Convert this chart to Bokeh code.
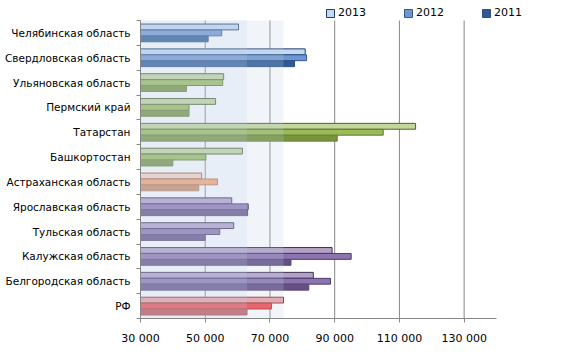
from bokeh.plotting import figure
from bokeh.models import ColumnDataSource, FixedTicker, Legend, LegendItem, Range1d
from bokeh.embed import file_html
from bokeh.resources import INLINE

categories = ["Челябинская область", "Свердловская область", "Ульяновская область",
              "Пермский край", "Татарстан", "Башкортостан", "Астраханская область",
              "Ярославская область", "Тульская область", "Калужская область",
              "Белгородская область", "РФ"]
v2013 = [60300, 80900, 55700, 53200, 115000, 61500, 48900, 58200, 58800, 89200, 83400, 74200]
v2012 = [55100, 81300, 55400, 45000, 105000, 50200, 53800, 63300, 54500, 95100, 88700, 70500]
v2011 = [50900, 77600, 44200, 45000, 90800, 40000, 48000, 63100, 50000, 76500, 82000, 62900]
groups = ["blue", "blue", "green", "green", "green", "green", "orange",
          "purple", "purple", "purple", "purple", "red"]
years = ["2013", "2012", "2011"]
x_ticks = [30000, 50000, 70000, 90000, 110000, 130000]
x_tick_labels = ["30 000", "50 000", "70 000", "90 000", "110 000", "130 000"]
base = 30000
x_max = 140000

fills = {
    "blue":   ["#c6d9f1", "#6f96cf", "#2f5a94"],
    "green":  ["#c4d79b", "#9bbb59", "#77933c"],
    "orange": ["#fad9c8", "#f7a56f", "#cf8a60"],
    "purple": ["#b3a2c7", "#8c74b0", "#655084"],
    "red":    ["#ee9fa2", "#f2474b", "#c0504d"],
}
lines = {
    "blue":   ["#1f3d6a", "#2f5a94", "#2a4f82"],
    "green":  ["#4f6228", "#5f7a30", "#6b8436"],
    "orange": ["#a0623c", "#c0703e", "#b57a55"],
    "purple": ["#403152", "#4e3d6a", "#5a4878"],
    "red":    ["#8b2f2f", "#b03030", "#a84442"],
}

n = len(categories)
centers = [n - i - 0.5 for i in range(n)]
offsets = [0.24, 0.0, -0.24]
series = [v2013, v2012, v2011]

FONT = "DejaVu Sans"
# plotting area (axes region) plus an extra strip on top / right that holds the legend
AX_W, AX_H = 356, 298
FW, FH = 396, 316
x_end = base + (x_max - base) * FW / AX_W
y_end = n * FH / AX_H

p = figure(frame_width=FW, frame_height=FH, output_backend="svg", toolbar_location=None,
           x_range=Range1d(base, x_end), y_range=Range1d(0, y_end),
           min_border_left=140, min_border_right=10, min_border_top=2, min_border_bottom=27)
p.outline_line_color = None
p.background_fill_color = "white"
p.border_fill_color = "white"
p.xgrid.visible = False
p.ygrid.visible = False

# vertical grid lines, limited to the category area
grid_x = x_ticks[1:]
grid_src = ColumnDataSource(dict(x=grid_x, y0=[0] * len(grid_x), y1=[n] * len(grid_x)))
p.segment(x0="x", x1="x", y0="y0", y1="y1", source=grid_src,
          line_color="#868686", line_width=1)

# bars
bar_renderers = []
for k, vals in enumerate(series):
    src = ColumnDataSource(dict(
        y=[c + offsets[k] for c in centers],
        right=vals,
        left=[base] * n,
        fill=[fills[g][k] for g in groups],
        line=[lines[g][k] for g in groups],
    ))
    r = p.hbar(y="y", left="left", right="right", height=0.235, source=src,
               fill_color="fill", line_color="line", line_width=1)
    bar_renderers.append(r)

# translucent bands (up to РФ 2013 and up to РФ 2011)
p.quad(left=[base], right=[v2013[-1]], bottom=[0], top=[n],
       fill_color="#bfd0ea", fill_alpha=0.22, line_color=None)
p.quad(left=[base], right=[v2011[-1]], bottom=[0], top=[n],
       fill_color="#bfd0ea", fill_alpha=0.19, line_color=None)

legend_items = [LegendItem(label=yr, renderers=[bar_renderers[k]], index=0)
                for k, yr in enumerate(years)]

legend = Legend(items=legend_items, orientation="horizontal",
                location=(185, FH - 17), glyph_width=10, glyph_height=10,
                label_height=12, label_width=65, label_standoff=3, spacing=0,
                padding=0, margin=0, border_line_color=None, background_fill_alpha=0,
                label_text_font_size="11px", label_text_font=FONT,
                label_text_color="#000000")
p.add_layout(legend)

# x axis
xa = p.xaxis[0]
xa.bounds = (base, x_max)
xa.ticker = FixedTicker(ticks=x_ticks, minor_ticks=[])
xa.major_label_overrides = {t: lab for t, lab in zip(x_ticks, x_tick_labels)}
xa.axis_line_color = "#868686"
xa.major_tick_line_color = "#868686"
xa.major_tick_out = 4
xa.major_tick_in = 0
xa.major_label_text_font = FONT
xa.major_label_text_font_size = "11px"
xa.major_label_text_color = "#000000"
xa.major_label_standoff = 9

# y axis
ya = p.yaxis[0]
ya.bounds = (0, n)
ya.ticker = FixedTicker(ticks=centers, minor_ticks=list(range(n + 1)))
ya.major_label_overrides = {c: name for c, name in zip(centers, categories)}
ya.axis_line_color = "#868686"
ya.major_tick_line_color = None
ya.major_tick_out = 4
ya.minor_tick_line_color = "#868686"
ya.minor_tick_out = 4
ya.minor_tick_in = 0
ya.major_label_text_font = FONT
ya.major_label_text_font_size = "10.5px"
ya.major_label_text_color = "#000000"
ya.major_label_standoff = 6

open("out.html", "w").write(file_html(p, INLINE))
